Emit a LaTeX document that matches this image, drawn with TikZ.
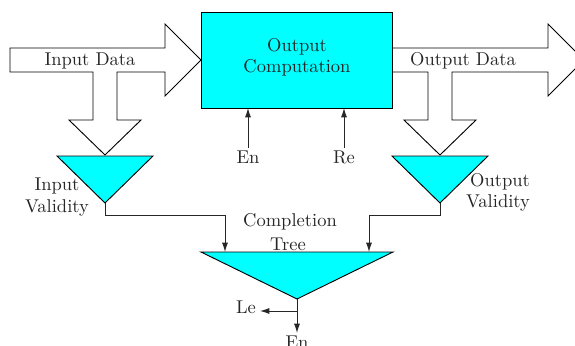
\documentclass[tikz,border=0pt]{standalone}
\usetikzlibrary{arrows.meta}
\definecolor{aqua}{RGB}{0,255,255}
\begin{document}
\begin{tikzpicture}[x=0.54pt,y=-0.54pt,
  fat/.style={draw=black,fill=white,line width=0.5pt,line join=miter},
  tri/.style={draw=black,fill=aqua,line width=0.5pt},
  wire/.style={draw=black!85,line width=0.5pt},
  sig/.style={wire,-{Latex[length=5pt,width=3.2pt]}},
  lbl/.style={inner sep=0pt,text=black!85,font=\normalsize}]
\useasboundingbox (0,0) rectangle (575,346);
\begin{scope}
\clip (0,0) rectangle (575,346);
% input data bus, splitting down to the validity check
\draw[fat] (10,48) -- (165,48) -- (165,24) -- (201,60) -- (165,96) -- (165,72)
  -- (117,72) -- (117,120) -- (141,120) -- (105,155) -- (69,120) -- (93,120)
  -- (93,72) -- (10,72) -- cycle;
% output data bus, splitting down to the validity check
\draw[fat] (392,48) -- (548,48) -- (548,24) -- (584,60) -- (548,96) -- (548,72)
  -- (452,72) -- (452,120) -- (476,120) -- (440,155) -- (404,120) -- (428,120)
  -- (428,72) -- (392,72);
\end{scope}
% computation block
\node[draw=black,fill=aqua,line width=0.5pt,minimum width=191*0.54pt,minimum height=96*0.54pt,
  inner sep=0pt,anchor=north west] (comp) at (201,12) {};
\node[lbl] (compA) at (297,47) {Output};
\node[lbl] (compB) at (297,68) {Computation};
\node[lbl] at (90,61) {Input Data};
\node[lbl] at (463,61) {Output Data};
% enable / reset inputs
\node[lbl] (en) at (248,157) {En};
\node[lbl] (re) at (344,157) {Re};
\coordinate (enTop) at (248,108);
\coordinate (reTop) at (344,108);
\draw[sig] (en.north) ++(0,-2) coordinate (enBot) (enBot) -- (enTop);
\draw[sig] (re.north) ++(0,-2) coordinate (reBot) (reBot) -- (reTop);
% validity detectors
\draw[tri] (57,156) coordinate (ivL) -- (153,156) -- (105,203) coordinate (iv) -- cycle;
\draw[tri] (392,156) -- (488,156) -- (440,203) coordinate (ov) -- cycle;
\node[lbl] at (57,186) {Input};
\node[lbl] at (57,208) {Validity};
\node[lbl] at (500,182) {Output};
\node[lbl] at (498,203) {Validity};
% completion tree
\draw[tri] (201,252) -- (393,252) -- (297,299) coordinate (ct) -- cycle;
\coordinate (ctL) at (225,252);
\coordinate (ctR) at (369,252);
\draw[sig] (iv) |- (225,215) -- (ctL);
\draw[sig] (ov) |- (369,215) -- (ctR);
\node[lbl] at (290,222) {Completion};
\node[lbl] at (288,244) {Tree};
% tree outputs
\node[lbl] (le) at (246,307) {Le};
\node[lbl] (en2) at (297,342) {En};
\coordinate (ctOut) at (297,333);
\coordinate (leTip) at (260,311);
\draw[wire] (ct) -- (297,311);
\draw[sig] (297,311) -- (ctOut);
\draw[sig] (297,311) -- (leTip);
\end{tikzpicture}
\end{document}
